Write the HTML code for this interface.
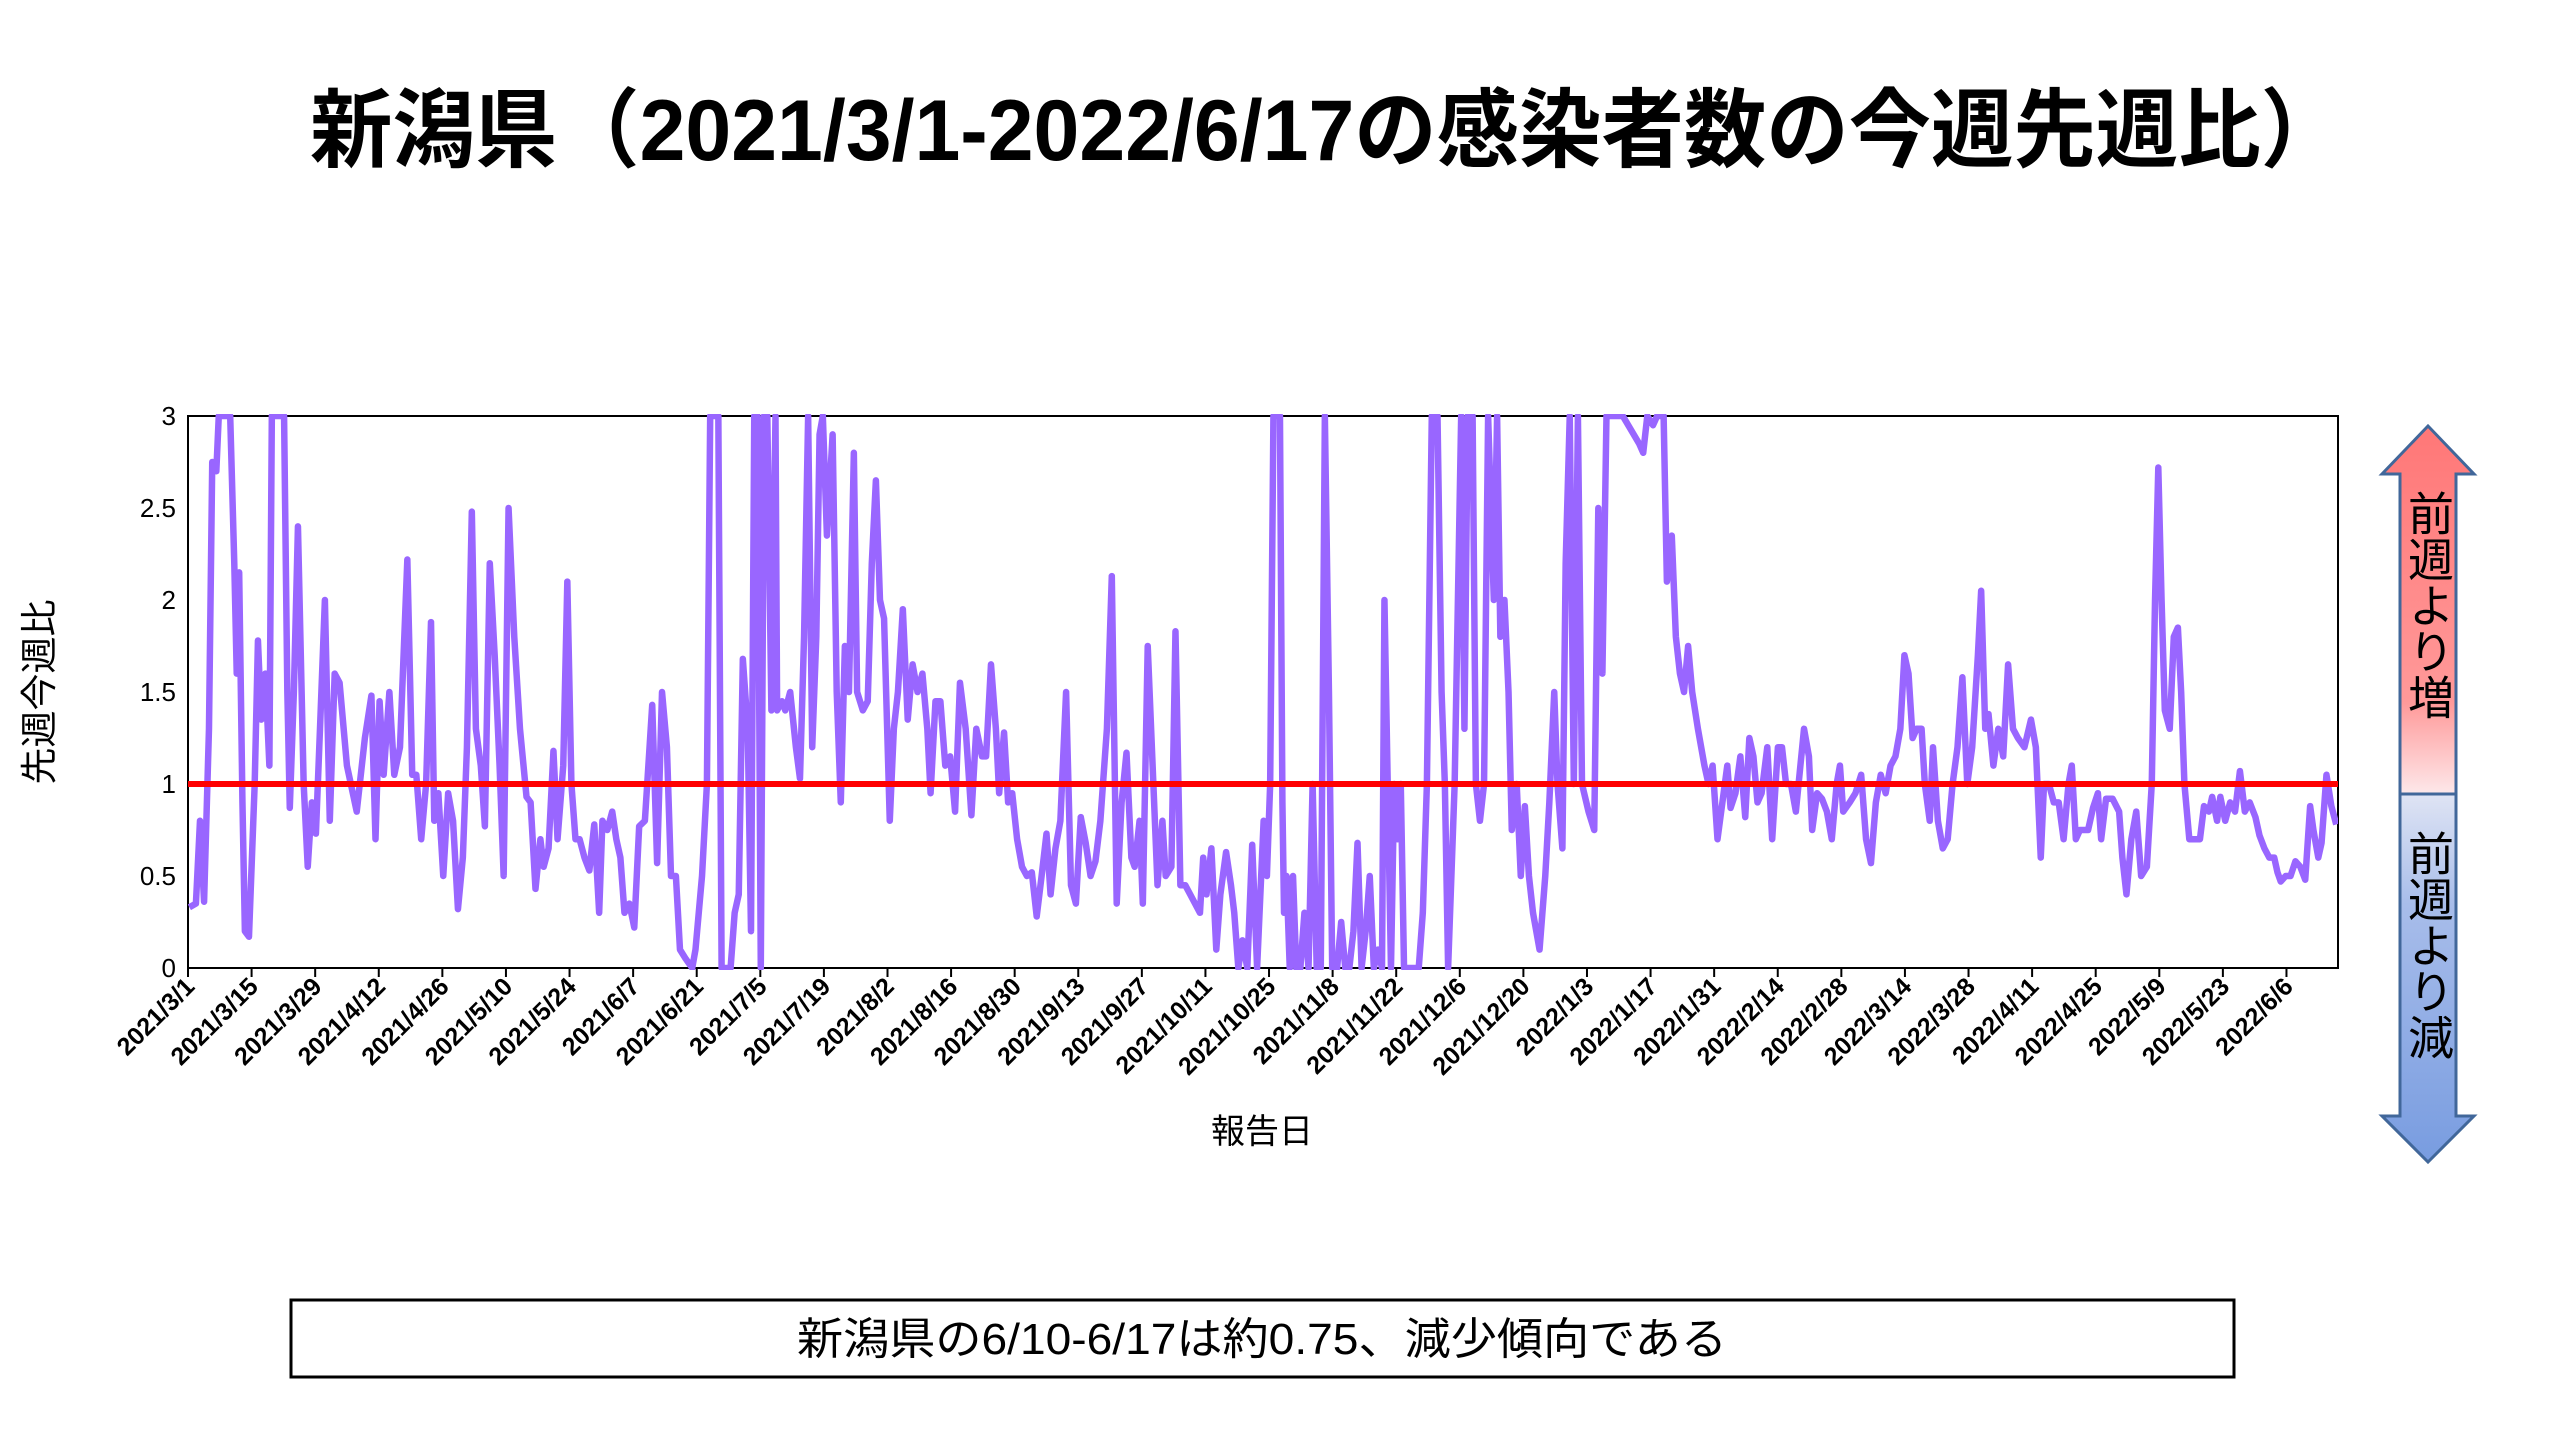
<!DOCTYPE html>
<html><head><meta charset="utf-8"><style>
html,body{margin:0;padding:0;background:#fff;}
svg{display:block;}
text{font-family:"Liberation Sans","Noto Sans CJK JP",sans-serif;}
</style></head><body>
<svg id="s" width="2560" height="1440" viewBox="0 0 2560 1440" xmlns="http://www.w3.org/2000/svg">
<defs>
<clipPath id="cp"><rect x="188" y="414" width="2150" height="556"/></clipPath>
<linearGradient id="gu" x1="0" y1="0" x2="0" y2="1"><stop offset="0" stop-color="#f77"/><stop offset="0.75" stop-color="#f99"/><stop offset="1" stop-color="#fde8ea"/></linearGradient>
<linearGradient id="gd" x1="0" y1="0" x2="0" y2="1"><stop offset="0" stop-color="#dfe4f4"/><stop offset="0.3" stop-color="#a8bdea"/><stop offset="1" stop-color="#789ce0"/></linearGradient>
</defs>
<text x="310" y="160" font-size="86" font-weight="bold" textLength="2033" lengthAdjust="spacingAndGlyphs">新潟県（2021/3/1-2022/6/17の感染者数の今週先週比）</text>
<rect x="188" y="416" width="2150" height="552" fill="#fff" stroke="#000" stroke-width="2"/>
<g id="yl" font-size="26" text-anchor="end"></g>
<g id="xt" stroke="#000" stroke-width="2"></g>
<g id="xl" font-size="25" font-weight="bold" text-anchor="end"></g>
<g clip-path="url(#cp)">
<polyline id="pl" fill="none" stroke="#9966ff" stroke-width="6.5" stroke-linejoin="round" vector-effect="non-scaling-stroke" transform="matrix(0.8163 0 0 -184 0 968)"/>
</g>
<line x1="188" y1="784" x2="2338" y2="784" stroke="#ff0000" stroke-width="6"/>
<text transform="translate(52,692) rotate(-90)" font-size="37" text-anchor="middle">先週今週比</text>
<text x="1262" y="1143" font-size="34" text-anchor="middle">報告日</text>
<path d="M2428,426 L2474,474 L2456,474 L2456,794 L2400,794 L2400,474 L2382,474 Z" fill="url(#gu)" stroke="#41679a" stroke-width="3"/>
<path d="M2400,794 L2456,794 L2456,1116 L2474,1116 L2428,1162 L2382,1116 L2400,1116 Z" fill="url(#gd)" stroke="#41679a" stroke-width="3"/>
<text x="2428" y="0" font-size="46" style="writing-mode:vertical-rl" transform="translate(0,490)" text-anchor="start">前週より増</text>
<text x="2428" y="0" font-size="46" style="writing-mode:vertical-rl" transform="translate(0,830)" text-anchor="start">前週より減</text>
<rect x="291" y="1300" width="1943" height="77" fill="#fff" stroke="#000" stroke-width="3"/>
<text x="1262" y="1354" font-size="44" text-anchor="middle" textLength="930" lengthAdjust="spacingAndGlyphs">新潟県の6/10-6/17は約0.75、減少傾向である</text>
</svg>
<script>
var NS="http://www.w3.org/2000/svg";
function el(p,t,a,txt){var e=document.createElementNS(NS,t);for(var k in a)e.setAttribute(k,a[k]);if(txt!==undefined)e.textContent=txt;document.getElementById(p).appendChild(e);return e;}
["0","0.5","1","1.5","2","2.5","3"].forEach(function(v,i){el("yl","text",{x:176,y:968-i*92+9},v);});
var labs=["2021/3/1","2021/3/15","2021/3/29","2021/4/12","2021/4/26","2021/5/10","2021/5/24","2021/6/7","2021/6/21","2021/7/5","2021/7/19","2021/8/2","2021/8/16","2021/8/30","2021/9/13","2021/9/27","2021/10/11","2021/10/25","2021/11/8","2021/11/22","2021/12/6","2021/12/20","2022/1/3","2022/1/17","2022/1/31","2022/2/14","2022/2/28","2022/3/14","2022/3/28","2022/4/11","2022/4/25","2022/5/9","2022/5/23","2022/6/6"];
labs.forEach(function(l,i){var x=188+i*63.59;el("xt","line",{x1:x,y1:968,x2:x,y2:977});
el("xl","text",{transform:"translate("+(x+8)+",988) rotate(-45)"},l);});
var a=[232,.33,240,.35,245,.8,250,.36,256,1.3,260,2.75,265,2.7,268,3,282,3,287,2.2,290,1.6,293,2.15,297,.9,300,.2,305,.17,312,1,316,1.78,320,1.35,325,1.6,330,1.1,333,3,348,3,352,1.5,355,.87,360,1.5,365,2.4,372,1,377,.55,382,.9,387,.73,392,1.3,398,2,404,.8,410,1.6,416,1.55,425,1.1,437,.85,447,1.25,455,1.48,460,.7,465,1.45,470,1.05,477,1.5,483,1.05,490,1.2,499,2.22,505,1.05,510,1.05,516,.7,522,1,528,1.88,532,.8,537,.95,543,.5,549,.95,555,.8,561,.32,567,.6,572,1.2,578,2.48,583,1.3,589,1.1,594,.77,600,2.2,606,1.7,612,1.1,617,.5,623,2.5,630,1.8,637,1.3,645,.93,650,.9,656,.43,662,.7,666,.55,672,.65,678,1.18,683,.7,690,1.1,695,2.1,700,1,705,.7,710,.7,716,.6,722,.53,728,.78,734,.3,738,.8,744,.75,750,.85,755,.7,760,.6,765,.3,771,.35,777,.22,783,.77,790,.8,799,1.43,805,.57,811,1.5,817,1.2,822,.5,828,.5,833,.1,840,.05,848,0,852,.1,860,.5,866,1,870,3,880,3,884,0,895,0,900,.3,905,.4,910,1.68,916,1.3,920,.2,924,3,928,3,932,0,936,3,940,3,945,1.4,950,3,952,1.4,958,1.45,962,1.4,968,1.5,975,1.2,980,1.03,985,1.8,990,3,995,1.2,1000,1.8,1004,2.9,1008,3,1013,2.35,1020,2.9,1025,1.5,1030,.9,1035,1.75,1040,1.5,1046,2.8,1050,1.5,1057,1.4,1063,1.45,1068,2.2,1073,2.65,1078,2,1083,1.9,1090,.8,1095,1.3,1100,1.5,1106,1.95,1112,1.35,1118,1.65,1124,1.5,1130,1.6,1136,1.3,1140,.95,1146,1.45,1152,1.45,1158,1.1,1164,1.15,1170,.85,1176,1.55,1183,1.3,1190,.83,1196,1.3,1203,1.15,1208,1.15,1214,1.65,1220,1.3,1224,.95,1230,1.28,1235,.9,1240,.95,1246,.7,1252,.55,1258,.5,1264,.52,1270,.28,1276,.5,1282,.73,1287,.4,1293,.65,1299,.8,1306,1.5,1312,.45,1318,.35,1324,.82,1330,.68,1336,.5,1342,.58,1348,.8,1356,1.3,1362,2.13,1368,.35,1374,.9,1380,1.17,1386,.6,1390,.55,1396,.8,1400,.35,1406,1.75,1412,1.1,1418,.45,1424,.8,1428,.5,1435,.55,1440,1.83,1446,.45,1452,.45,1458,.4,1464,.35,1470,.3,1474,.6,1478,.4,1484,.65,1490,.1,1495,.4,1502,.63,1508,.45,1512,.3,1517,0,1522,.15,1528,0,1534,.67,1540,0,1548,.8,1552,.5,1556,1,1560,3,1567,3];
var b=[0,3,3,.9,5,.3,8,.5,12,0,16,.5,20,0,25,0,30,.3,35,0,40,1,45,0,50,0,55,3,60,1.5,64,0,70,0,75,.25,80,0,85,0,90,.2,95,.68,100,0,105,.2,110,.5,115,0,120,.1,125,0,128,2,132,1,136,0,140,1,144,.7,148,1,152,0,160,0,170,0,175,.3,180,1,186,3,193,3,198,1.5,202,1,206,0,210,.5,214,1,218,2,222,3,226,1.3,230,3,236,3,240,1,245,.8,250,1,255,3,262,2,266,3,270,1.8,275,2,280,1.5,284,.75,290,1,295,.5,300,.88,305,.5,310,.3,318,.1,325,.5,330,.9,336,1.5,340,1,346,.65,350,2.2,355,3,360,1,365,3,370,1,378,.85,385,.75,390,2.5,395,1.6,400,3,420,3,440,2.85,445,2.8,450,3,457,2.95,462,3,470,3,474,2.1,480,2.35,485,1.8,490,1.6,495,1.5,500,1.75,505,1.5,512,1.3,520,1.1,525,1,530,1.1,536,.7,542,.9,548,1.1,552,.87,558,.95,564,1.15,570,.82,575,1.25,580,1.15,585,.9,590,.95,597,1.2,603,.7,610,1.2,615,1.2,620,1,626,1,632,.85,642,1.3,648,1.15,652,.75,658,.95,664,.92,670,.85,676,.7,682,1,686,1.1,690,.85,698,.9,705,.95,712,1.05,718,.7,724,.57,730,.9,736,1.05,742,.95,748,1.1,754,1.15,760,1.3,765,1.7,770,1.6,775,1.25,780,1.3,786,1.3,790,1,796,.8,800,1.2,806,.8,812,.65,818,.7,824,1,830,1.2,836,1.58,842,1,848,1.2,855,1.7,859,2.05,864,1.3,868,1.38,874,1.1,880,1.3,886,1.15,892,1.65,898,1.3,904,1.25,912,1.2,920,1.35,926,1.2,932,.6,936,1,942,1,948,.9,954,.9,960,.7,966,1,970,1.1,975,.7,980,.75,990,.75,996,.87,1002,.95,1006,.7,1012,.92,1020,.92,1028,.85,1032,.6,1037,.4,1043,.7,1049,.85,1055,.5,1062,.55,1068,1,1072,2,1076,2.72,1080,2,1084,1.4,1090,1.3,1095,1.8,1100,1.85,1104,1.5,1108,1,1114,.7,1120,.7,1127,.7,1132,.88,1138,.85,1142,.93,1148,.8,1152,.93,1158,.8,1164,.9,1170,.85,1176,1.07,1182,.85,1188,.9,1195,.82,1200,.72,1206,.65,1212,.6,1218,.6,1222,.52,1226,.47,1232,.5,1238,.5,1244,.58,1250,.55,1256,.48,1262,.88,1266,.75,1272,.6,1276,.68,1282,1.05,1288,.88,1294,.78];
var pts=[];for(var i=0;i<a.length;i+=2)pts.push(a[i]+","+Math.min(a[i+1],3.02));
for(var i=0;i<b.length;i+=2)pts.push((b[i]+1568)+","+Math.min(b[i+1],3.02));
document.getElementById("pl").setAttribute("points",pts.join(" "));
</script>
</body></html>
